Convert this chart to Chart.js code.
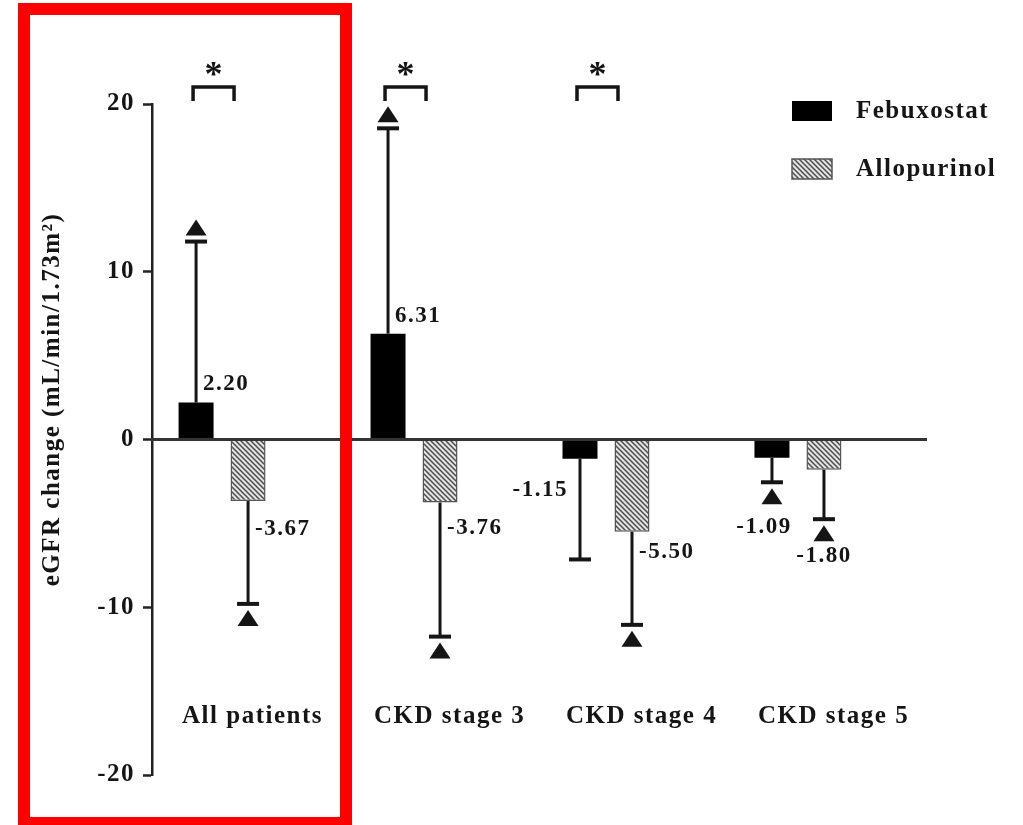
<!DOCTYPE html>
<html><head><meta charset="utf-8">
<script src="https://cdn.jsdelivr.net/npm/chart.js@4"></script>
<style>
html,body{margin:0;padding:0;background:#fff;}
#wrap{position:relative;width:1023px;height:825px;overflow:hidden;}
#frame{position:absolute;left:18px;top:3px;width:334px;height:826px;box-sizing:border-box;border:12px solid #ff0000;pointer-events:none;}
</style></head><body>
<div id="wrap"><canvas id="c" width="1023" height="825"></canvas><div id="frame"></div></div>
<script>
// ---- data ----
const categories = ['All patients', 'CKD stage 3', 'CKD stage 4', 'CKD stage 5'];
const seriesNames = ['Febuxostat', 'Allopurinol'];
const febuxostat = [2.20, 6.31, -1.15, -1.09];
const allopurinol = [-3.67, -3.76, -5.50, -1.80];
const febuxostatErrEnd = [11.8, 18.55, -7.15, -2.55];
const allopurinolErrEnd = [-9.8, -11.75, -11.05, -4.75];
const febuxostatTriangle = [true, true, false, true];
const allopurinolTriangle = [true, true, true, true];
const significant = [true, true, true, false];
const yTickValues = [-20, -10, 0, 10, 20];
const yTitle = 'eGFR change (mL/min/1.73m\u00B2)';

// ---- style ----
const FONT = 'Liberation Serif';
const INK = '#151515';
const LS = '1.5px';
const labelPlace = [
  [{a:'left', dx:7, dy:-19}, {a:'left', dx:7, dy:-18}, {a:'right', dx:-12, dy:31}, {a:'center', dx:-8, dy:69}],
  [{a:'left', dx:7, dy:28}, {a:'left', dx:7, dy:25}, {a:'left', dx:7, dy:20}, {a:'center', dx:0, dy:86}]
];

function makeHatch() {
  const s = 5;
  const c = document.createElement('canvas');
  c.width = s; c.height = s;
  const g = c.getContext('2d');
  g.fillStyle = '#e4e4e4';
  g.fillRect(0, 0, s, s);
  g.strokeStyle = '#4d4d4d';
  g.lineWidth = 1.5;
  g.beginPath();
  for (const k of [-s, 0, s]) { g.moveTo(k - 2, -2); g.lineTo(k + s + 2, s + 2); }
  g.stroke();
  return g.createPattern(c, 'repeat');
}
const hatch = makeHatch();

const series = [
  {values: febuxostat, err: febuxostatErrEnd, tri: febuxostatTriangle},
  {values: allopurinol, err: allopurinolErrEnd, tri: allopurinolTriangle}
];

const overlay = {
  id: 'overlay',
  beforeUpdate(chart) { chart.ctx.letterSpacing = LS; },
  beforeDraw(chart) { chart.ctx.letterSpacing = LS; },
  afterDatasetsDraw(chart) {
    const ctx = chart.ctx;
    const ys = chart.scales.y, xs = chart.scales.x;
    const ca = chart.chartArea;
    ctx.save();
    ctx.letterSpacing = LS;
    ctx.fillStyle = INK; ctx.strokeStyle = INK;
    // error bars, triangles, value labels
    series.forEach((s, di) => {
      const meta = chart.getDatasetMeta(di);
      meta.data.forEach((bar, j) => {
        const x = bar.x, yEnd = bar.y;
        const capY = ys.getPixelForValue(s.err[j]);
        ctx.lineWidth = 3;
        ctx.beginPath(); ctx.moveTo(x, yEnd); ctx.lineTo(x, capY); ctx.stroke();
        ctx.lineWidth = 4;
        ctx.beginPath(); ctx.moveTo(x - 11, capY); ctx.lineTo(x + 11, capY); ctx.stroke();
        if (s.tri[j]) {
          const up = capY < yEnd;
          const apex = up ? capY - 22 : capY + 6;
          const base = apex + 16;
          ctx.beginPath(); ctx.moveTo(x, apex); ctx.lineTo(x + 10.5, base); ctx.lineTo(x - 10.5, base); ctx.closePath(); ctx.fill();
        }
        const p = labelPlace[di][j];
        ctx.font = 'bold 23px "' + FONT + '"';
        ctx.textAlign = p.a; ctx.textBaseline = 'middle';
        ctx.fillText(s.values[j].toFixed(2), x + p.dx, yEnd + p.dy);
      });
    });
    // significance brackets
    significant.forEach((sig, i) => {
      if (!sig) return;
      const cx = xs.getPixelForValue(i + 1);
      const l = cx - 29, r = cx + 12, top = ca.top - 17, bot = ca.top - 3;
      ctx.lineWidth = 3.5;
      ctx.beginPath(); ctx.moveTo(l, bot); ctx.lineTo(l, top); ctx.lineTo(r, top); ctx.lineTo(r, bot); ctx.stroke();
      ctx.font = 'bold 36px "' + FONT + '"';
      ctx.textAlign = 'center'; ctx.textBaseline = 'alphabetic';
      ctx.letterSpacing = '0px';
      ctx.fillText('*', (l + r) / 2, ca.top - 18);
      ctx.letterSpacing = LS;
    });
    // legend
    ctx.font = 'bold 25px "' + FONT + '"';
    ctx.textAlign = 'left'; ctx.textBaseline = 'middle';
    const lx = ca.right - 134;
    const rows = [ca.top - 3, ca.top + 55];
    chart.data.datasets.forEach((ds, i) => {
      ctx.fillStyle = ds.backgroundColor;
      ctx.fillRect(lx, rows[i], 40, 20);
      if (ds.borderWidth) { ctx.lineWidth = 1.5; ctx.strokeStyle = ds.borderColor; ctx.strokeRect(lx, rows[i], 40, 20); }
      ctx.fillStyle = INK;
      ctx.fillText(ds.label, lx + 64, rows[i] + 11);
    });
    // y title
    ctx.translate(53, (ca.top + ca.bottom) / 2 - 40);
    ctx.rotate(-Math.PI / 2);
    ctx.textAlign = 'center'; ctx.textBaseline = 'middle';
    ctx.fillText(yTitle, 0, 0);
    ctx.restore();
  }
};

new Chart(document.getElementById('c'), {
  type: 'bar',
  data: {
    datasets: [
      {label: seriesNames[0], data: febuxostat.map((v, i) => ({x: i + 1, y: v})), backgroundColor: '#000', borderWidth: 0},
      {label: seriesNames[1], data: allopurinol.map((v, i) => ({x: i + 1, y: v})), backgroundColor: hatch, borderColor: '#555', borderWidth: 1.5}
    ]
  },
  options: {
    responsive: false,
    devicePixelRatio: 1,
    animation: false,
    categoryPercentage: 104 / 192,
    barPercentage: 35 / 52,
    layout: {padding: {top: 104, bottom: 50, left: 0, right: 97}},
    plugins: {legend: {display: false}, tooltip: {enabled: false}},
    scales: {
      x: {
        type: 'linear', offset: false,
        min: 0.635, max: 4.667,
        position: {y: 0},
        afterBuildTicks: (s) => { s.ticks = categories.map((c, i) => ({value: i + 1})); },
        afterFit: (s) => { s.paddingLeft = 0; s.paddingRight = 0; s.paddingTop = 0; s.paddingBottom = 0; },
        grid: {display: false, drawTicks: false},
        border: {display: true, color: '#333', width: 3, z: 1},
        ticks: {
          align: 'start', labelOffset: -40, padding: 262, autoSkip: false, maxRotation: 0,
          color: INK, font: {family: FONT, size: 25, weight: 'bold'},
          callback: (v) => categories[Math.round(v) - 1] || ''
        }
      },
      y: {
        type: 'linear', position: 'left', min: -20, max: 20,
        afterBuildTicks: (s) => { s.ticks = yTickValues.map(v => ({value: v})); },
        afterFit: (s) => { s.width = 152; s.paddingTop = 0; s.paddingBottom = 0; },
        grid: {drawOnChartArea: false, drawTicks: true, tickLength: 9, tickWidth: 2.5, tickColor: '#222', color: '#222'},
        border: {display: true, width: 2.5, color: '#222'},
        ticks: {padding: 8, color: INK, font: {family: FONT, size: 25, weight: 'bold'}}
      }
    }
  },
  plugins: [overlay]
});
</script>
</body></html>
